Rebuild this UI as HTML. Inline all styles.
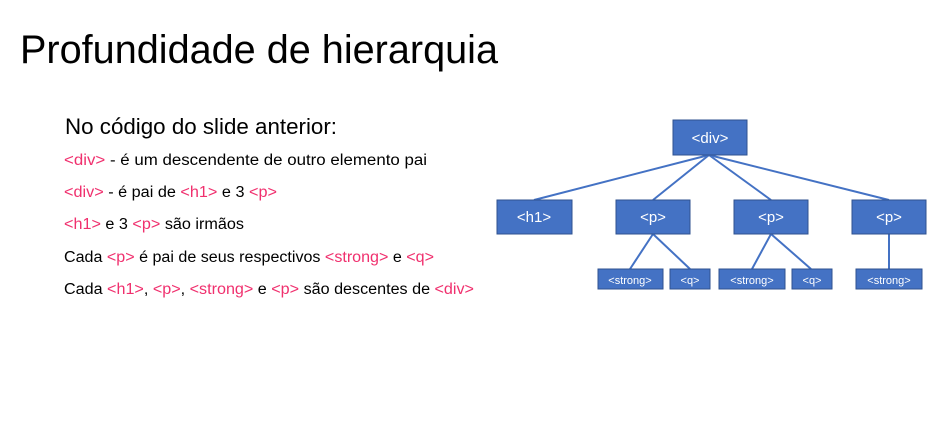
<!DOCTYPE html>
<html><head><meta charset="utf-8"><style>
html,body{margin:0;padding:0;background:#fff;}
svg{display:block;font-family:"Liberation Sans",sans-serif;}
.k{fill:#000}.p{fill:#f0306e}
</style></head><body>
<svg width="946" height="432" viewBox="0 0 946 432">
<text x="20" y="63" font-size="40" textLength="478" lengthAdjust="spacingAndGlyphs" class="k">Profundidade de hierarquia</text>
<text x="65" y="134" font-size="22" textLength="272" lengthAdjust="spacingAndGlyphs" class="k">No código do slide anterior:</text>
<g font-size="15.5">
<text x="64" y="165" textLength="363" lengthAdjust="spacingAndGlyphs"><tspan class="p">&lt;div&gt;</tspan><tspan class="k"> - é um descendente de outro elemento pai</tspan></text>
<text x="64" y="197" textLength="213" lengthAdjust="spacingAndGlyphs"><tspan class="p">&lt;div&gt;</tspan><tspan class="k"> - é pai de </tspan><tspan class="p">&lt;h1&gt;</tspan><tspan class="k"> e 3 </tspan><tspan class="p">&lt;p&gt;</tspan></text>
<text x="64" y="229" textLength="180" lengthAdjust="spacingAndGlyphs"><tspan class="p">&lt;h1&gt;</tspan><tspan class="k"> e 3 </tspan><tspan class="p">&lt;p&gt;</tspan><tspan class="k"> são irmãos</tspan></text>
<text x="64" y="262" textLength="370" lengthAdjust="spacingAndGlyphs"><tspan class="k">Cada </tspan><tspan class="p">&lt;p&gt;</tspan><tspan class="k"> é pai de seus respectivos </tspan><tspan class="p">&lt;strong&gt;</tspan><tspan class="k"> e </tspan><tspan class="p">&lt;q&gt;</tspan></text>
<text x="64" y="294" textLength="410" lengthAdjust="spacingAndGlyphs"><tspan class="k">Cada </tspan><tspan class="p">&lt;h1&gt;</tspan><tspan class="k">, </tspan><tspan class="p">&lt;p&gt;</tspan><tspan class="k">, </tspan><tspan class="p">&lt;strong&gt;</tspan><tspan class="k"> e </tspan><tspan class="p">&lt;p&gt;</tspan><tspan class="k"> são descentes de </tspan><tspan class="p">&lt;div&gt;</tspan></text>
</g>
<g stroke="#4472c4" stroke-width="2">
<line x1="709" y1="155" x2="534" y2="200"/>
<line x1="709" y1="155" x2="653" y2="200"/>
<line x1="709" y1="155" x2="771" y2="200"/>
<line x1="709" y1="155" x2="889" y2="200"/>
<line x1="653" y1="234" x2="630" y2="269"/>
<line x1="653" y1="234" x2="690" y2="269"/>
<line x1="771" y1="234" x2="752" y2="269"/>
<line x1="771" y1="234" x2="811" y2="269"/>
<line x1="889" y1="234" x2="889" y2="269"/>
</g>
<g fill="#4472c4" stroke="#2f528f" stroke-width="1">
<rect x="673" y="120" width="74" height="35"/>
<rect x="497" y="200" width="75" height="34"/>
<rect x="616" y="200" width="74" height="34"/>
<rect x="734" y="200" width="74" height="34"/>
<rect x="852" y="200" width="74" height="34"/>
<rect x="598" y="269" width="65" height="20"/>
<rect x="670" y="269" width="40" height="20"/>
<rect x="719" y="269" width="66" height="20"/>
<rect x="792" y="269" width="40" height="20"/>
<rect x="856" y="269" width="66" height="20"/>
</g>
<g fill="#fff" text-anchor="middle">
<text x="710" y="143" font-size="15">&lt;div&gt;</text>
<text x="534" y="222" font-size="15">&lt;h1&gt;</text>
<text x="653" y="222" font-size="15">&lt;p&gt;</text>
<text x="771" y="222" font-size="15">&lt;p&gt;</text>
<text x="889" y="222" font-size="15">&lt;p&gt;</text>
<text x="630" y="284" font-size="11">&lt;strong&gt;</text>
<text x="690" y="284" font-size="11">&lt;q&gt;</text>
<text x="752" y="284" font-size="11">&lt;strong&gt;</text>
<text x="812" y="284" font-size="11">&lt;q&gt;</text>
<text x="889" y="284" font-size="11">&lt;strong&gt;</text>
</g>
</svg>
</body></html>
